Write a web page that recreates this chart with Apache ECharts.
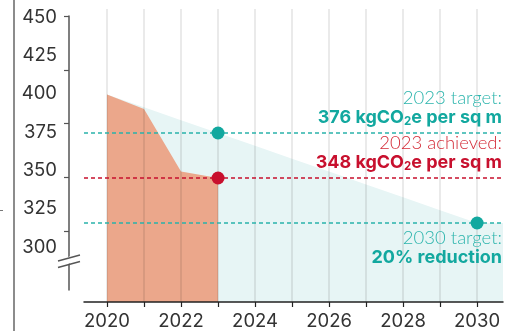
<!DOCTYPE html>
<html>
<head>
<meta charset="utf-8">
<script src="https://cdn.jsdelivr.net/npm/echarts@6/dist/echarts.min.js"></script>
<style>html,body{margin:0;padding:0;background:#fff}#c{width:522px;height:331px}</style>
</head>
<body>
<div id="c"></div>
<script>
// ---- data ----
const targetYears = [2020, 2021, 2022, 2023, 2024, 2025, 2026, 2027, 2028, 2029, 2030, 2031];
const targetValues = [400, 392, 384, 376, 368, 360, 352, 344, 336, 328, 320, 320];
const achievedYears = [2020, 2021, 2022, 2023];
const achievedValues = [400, 391, 352, 348];
const target2023 = 376;
const achieved2023 = 348;
const target2030 = 320;
const xTickYears = [2020, 2021, 2022, 2023, 2024, 2025, 2026, 2027, 2028, 2029, 2030];
const xLabelYears = [2020, 2022, 2024, 2026, 2028, 2030];
const yLabelValues = [300, 325, 350, 375, 400, 425, 450];

const TEAL = '#12a89f', TEAL_L = '#2db5ad', RED = '#c8102e', RED_L = '#d42c38';
const FONT = 'Inter';

const chart = echarts.init(document.getElementById('c'), null, {renderer: 'canvas'});
const pair = (xs, ys) => xs.map((x, i) => [x, ys[i]]);

const rich = (c1, c2) => ({
  l: {fontFamily: 'Lato', fontSize: 18.5, fontWeight: 300, color: c1, lineHeight: 19, align: 'right'},
  b: {fontFamily: FONT, fontSize: 18, fontWeight: 'bold', color: c2, lineHeight: 19},
  s: {fontFamily: FONT, fontSize: 11.5, fontWeight: 'bold', color: c2, lineHeight: 19, padding: [9, 0, 0, 0]}
});

chart.setOption({
  animation: false,
  grid: [
    {left: 84, right: 19, top: 9, bottom: 29},
    {left: 69, width: 1, top: 16, bottom: 41}
  ],
  xAxis: [{
    type: 'value', gridIndex: 0, min: 2019.378, max: 2030.70, z: 2,
    axisLine: {show: true, lineStyle: {color: '#222', width: 1.5}},
    axisTick: {show: true, length: 5, lineStyle: {color: '#222', width: 1.2}, customValues: xTickYears},
    axisLabel: {customValues: xLabelYears, fontFamily: FONT, fontSize: 18.5, color: '#333', margin: 10, formatter: v => String(v)},
    splitLine: {show: true, lineStyle: {color: 'rgba(0,0,0,0.11)', width: 1.5}}
  }, {
    type: 'value', gridIndex: 1, show: false, min: 0, max: 1
  }],
  yAxis: [{
    type: 'value', gridIndex: 0, min: 270.84, max: 453.16, show: false, splitLine: {show: false}
  }, {
    type: 'value', gridIndex: 0, min: 264.13, max: 455.2, position: 'left',
    axisLine: {show: false}, axisTick: {show: false}, splitLine: {show: false},
    axisLabel: {customValues: yLabelValues, fontFamily: FONT, fontSize: 18.5, color: '#333', margin: 27}
  }, {
    type: 'value', gridIndex: 1, min: -1.093, max: 4, position: 'left',
    axisLine: {show: true, lineStyle: {color: '#555', width: 1.5}},
    axisTick: {show: true, length: 5, customValues: [0, 1, 2, 3, 4], lineStyle: {color: '#555', width: 1.2}},
    axisLabel: {show: false}, splitLine: {show: false}
  }],
  series: [
    {
      type: 'line', xAxisIndex: 0, yAxisIndex: 0, z: 1,
      data: pair(targetYears, targetValues), symbol: 'none',
      lineStyle: {width: 0}, areaStyle: {color: '#e7f5f5', opacity: 1, origin: 'start'}
    },
    {
      type: 'line', xAxisIndex: 0, yAxisIndex: 0, z: 1,
      data: pair(achievedYears, achievedValues), symbol: 'none',
      lineStyle: {width: 0}, areaStyle: {color: '#eba78b', opacity: 1, origin: 'start'}
    },
    {
      type: 'scatter', xAxisIndex: 0, yAxisIndex: 0, z: 5,
      symbolSize: 13, silent: true,
      data: [
        {value: [2023, target2023], itemStyle: {color: TEAL, opacity: 1}},
        {value: [2023, achieved2023], itemStyle: {color: RED, opacity: 1}},
        {value: [2030, target2030], itemStyle: {color: TEAL, opacity: 1}}
      ],
      markLine: {
        silent: true, symbol: 'none', z: 4,
        data: [
          {yAxis: target2023, lineStyle: {color: '#2ab3ab', type: [4, 3], width: 1.5},
           label: {show: true, position: 'insideEndTop', distance: 6, offset: [5, 0], formatter: '{l|2023 target:}\n{b|' + target2023 + ' kgCO}{s|2}{b|e per sq m}', rich: rich(TEAL_L, TEAL)}},
          {yAxis: achieved2023, lineStyle: {color: RED, type: [4, 3], width: 1.5},
           label: {show: true, position: 'insideEndTop', distance: 6, offset: [5, 0], formatter: '{l|2023 achieved:}\n{b|' + achieved2023 + ' kgCO}{s|2}{b|e per sq m}', rich: rich(RED_L, RED)}},
          {yAxis: target2030, lineStyle: {color: '#2ab3ab', type: [4, 3], width: 1.5},
           label: {show: true, position: 'insideEndBottom', distance: 6, offset: [5, 0], formatter: '{l|2030 target:}\n{b|20% reduction}', rich: rich(TEAL_L, TEAL)}}
        ]
      }
    }
  ],
  graphic: [
    {type: 'line', shape: {x1: 14, y1: 0, x2: 14, y2: 331}, style: {stroke: '#666', lineWidth: 1.5}, z: 10},
    {type: 'line', shape: {x1: 0, y1: 210.5, x2: 3, y2: 210.5}, style: {stroke: '#777', lineWidth: 1}, z: 10},
    {type: 'polygon', shape: {points: [[66, 258], [73, 255], [73, 262], [66, 265]]}, style: {fill: '#fff'}, z: 10},
    {type: 'line', shape: {x1: 58, y1: 261, x2: 80, y2: 255}, style: {stroke: '#555', lineWidth: 1.3}, z: 11},
    {type: 'line', shape: {x1: 58, y1: 267.5, x2: 80, y2: 261.5}, style: {stroke: '#555', lineWidth: 1.3}, z: 11}
  ]
});
</script>
</body>
</html>
